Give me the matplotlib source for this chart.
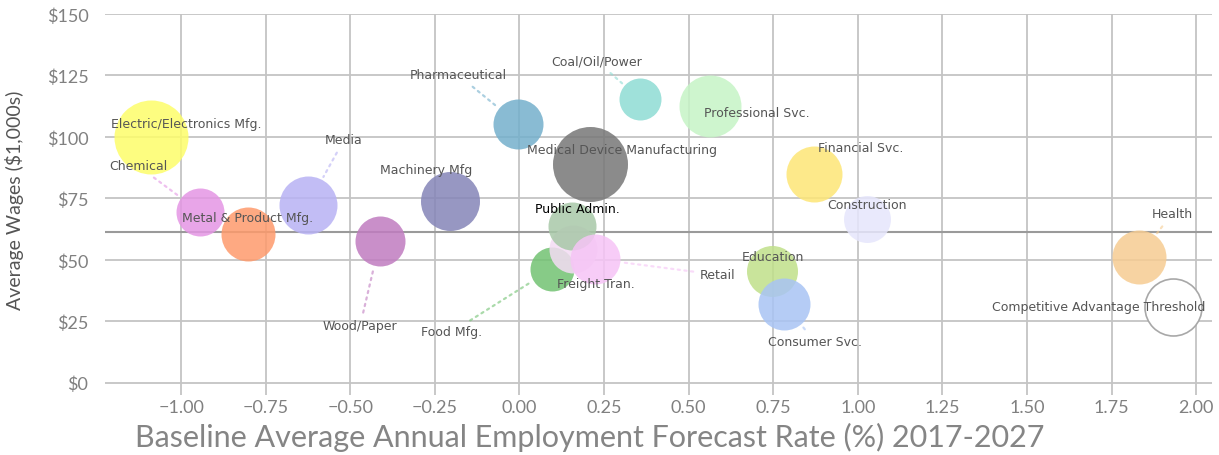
import matplotlib
matplotlib.use("Agg")
import matplotlib.pyplot as plt

# ---------------- data ----------------
industries = [
    "Electric/Electronics Mfg.", "Chemical", "Metal & Product Mfg.", "Media",
    "Wood/Paper", "Machinery Mfg", "Pharmaceutical", "Coal/Oil/Power",
    "Professional Svc.", "Medical Device Manufacturing", "Financial Svc.",
    "Construction", "Health", "Competitive Advantage Threshold", "Education",
    "Consumer Svc.", "Food Mfg.", "Freight Tran.", "Public Admin.", "Retail",
]
growth_rate = [-1.089, -0.944, -0.803, -0.625, -0.412, -0.205, -0.004, 0.356,
               0.563, 0.208, 0.871, 1.027, 1.831, 1.932, 0.746,
               0.782, 0.096, 0.158, 0.155, 0.223]
avg_wage = [100.0, 69.5, 60.6, 72.4, 57.7, 74.0, 105.3, 115.4,
            112.6, 89.0, 85.0, 66.7, 51.2, 30.9, 45.5,
            32.1, 46.3, 54.5, 63.8, 50.4]
bubble_size = [37, 24, 27, 29, 25, 29.5, 25, 21,
               31, 37.5, 28, 23.5, 27, 28.5, 25.5,
               26, 22, 24, 24, 25]
colors = ["#fdfd6a", "#e496e4", "#fe9a6c", "#b8b2f4", "#c07cc0", "#8585b8",
          "#74b0cc", "#8edcd4", "#c6f4c6", "#777777", "#fde676", "#e6e6fc",
          "#f6cc92", "#ffffff", "#c0e08a", "#a8c4f4", "#72c272", "#f4dcf4",
          "#a8c8a8", "#f6c4f6"]
# label offsets (pixels, x right / y down) relative to bubble centre
label_dx = [35, -62, 0, 36, -20, -24, -60, -43, 47, 32, 47, 0, 33, -74, 1,
            31, -100, 23, 5, 123]
label_dy = [-13, -46, -16, -65, 85, -31, -49, -38, 7, -14, -26, -14, -43, 0, -14,
            38, 63, 35, -17, 16]
leader = [False, True, False, True, True, False, True, True, False, False, False,
          False, True, False, False, True, True, False, False, True]
reference_wage = 61.4
xticks = [-1.00, -0.75, -0.50, -0.25, 0.00, 0.25, 0.50, 0.75, 1.00, 1.25, 1.50, 1.75, 2.00]
yticks = [0, 25, 50, 75, 100, 125, 150]
ytick_labels = ["$0", "$25", "$50", "$75", "$100", "$125", "$150"]

# ---------------- figure ----------------
W, H = 1219, 456
fig = plt.figure(figsize=(W / 100, H / 100), dpi=100)
ax = fig.add_axes([105 / W, 1 - 396 / H, (1212 - 105) / W, (396 - 15) / H])
ax.set_xlim(-1.225, 2.047)
ax.set_ylim(-5, 150)

for s in ax.spines.values():
    s.set_visible(False)
ax.set_xticks(xticks)
ax.set_xticklabels([f"{v:.2f}".replace("-", "\u2212") for v in xticks])
ax.set_yticks(yticks)
ax.set_yticklabels(ytick_labels)
ax.tick_params(length=0, labelsize=13, labelcolor="#808080")
ax.tick_params(axis="y", pad=12)
ax.tick_params(axis="x", pad=3)
for lab in ax.get_xticklabels() + ax.get_yticklabels():
    lab.set_family(["Lato", "DejaVu Sans"])
ax.grid(True, color="#c4c4c4", lw=1.3)
ax.set_axisbelow(True)
ax.axhline(reference_wage, color="#9a9a9a", lw=1.5, zorder=1)

px2pt = 0.72
for i, name in enumerate(industries):
    r = bubble_size[i] * px2pt
    if name.startswith("Competitive"):
        ax.scatter(growth_rate[i], avg_wage[i], s=(2 * r) ** 2, facecolor="white",
                   edgecolor="#a8a8a8", lw=1.2, zorder=3 + i)
    else:
        ax.scatter(growth_rate[i], avg_wage[i], s=(2 * r) ** 2, color=colors[i],
                   alpha=0.85, lw=0, zorder=3 + i)

for i, name in enumerate(industries):
    r = bubble_size[i] * px2pt
    ap = None
    if leader[i]:
        ap = dict(arrowstyle="-", linestyle=(0, (1, 2)), lw=1.6, alpha=0.6,
                  color=colors[i], shrinkA=3, shrinkB=r + 2)
    ax.annotate(name, (growth_rate[i], avg_wage[i]),
                xytext=(label_dx[i] * px2pt, -label_dy[i] * px2pt),
                textcoords="offset points", ha="center", va="center",
                fontsize=9, color="#000000" if name == "Public Admin." else "#555555",
                fontweight="medium" if name == "Public Admin." else "normal",
                arrowprops=ap, zorder=40)

fig.text(15 / W, 1 - 200 / H, "Average Wages ($1,000s)", rotation=90,
         ha="center", va="center", fontsize=14, color="#555555",
         family=["Lato", "DejaVu Sans"])
fig.text(590 / W, 1 - 437 / H,
         "Baseline Average Annual Employment Forecast Rate (%) 2017-2027",
         ha="center", va="center", fontsize=22, color="#858585",
         family=["Lato", "DejaVu Sans"])

fig.savefig("out.png", dpi=100)
